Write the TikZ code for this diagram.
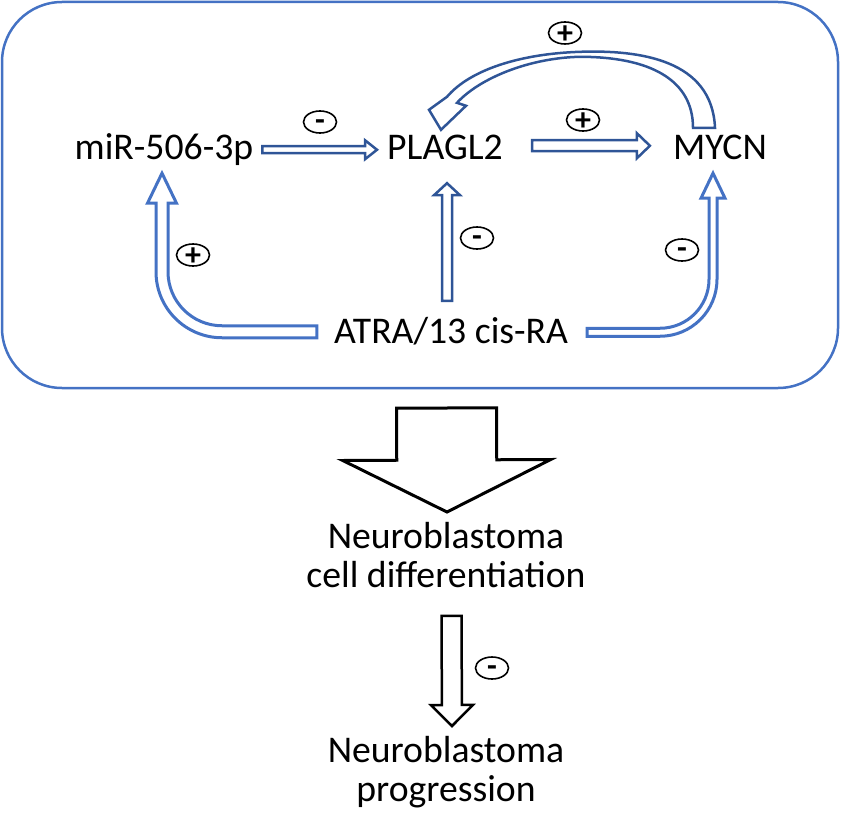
\documentclass[tikz,border=0pt]{standalone}
\usepackage{fontspec}
\setmainfont{Carlito}
\usetikzlibrary{calc,shapes.geometric}

\definecolor{arrblue}{HTML}{2F5597}
\definecolor{boxblue}{HTML}{4472C4}

\newcommand{\sgnplus}{\raisebox{-0.33em}[0pt][0pt]{\makebox[0pt]{+}}}
\newcommand{\sgnminus}{\raisebox{-0.27em}[0pt][0pt]{\makebox[0pt]{-}}}

\tikzset{
  lbl/.style={font=\fontsize{37.7}{39}\selectfont, inner sep=2pt, text height=24.5pt, text depth=0pt},
  res/.style={font=\fontsize{37.7}{39}\selectfont, align=center, inner sep=2pt},
  sgn/.style={ellipse, draw, line width=1.6, minimum width=33, minimum height=22, inner sep=0pt,
    font=\bfseries\fontsize{32}{32}\selectfont},
  % hollow block arrow: shaft half width, head half width, head length
  blk/.style n args={3}{to path={
    let \p1=(\tikztostart), \p2=(\tikztotarget),
        \n1={atan2(\y2-\y1,\x2-\x1)} in
    ($(\p1)+(\n1+90:#1)$) -- ($(\p2)+(\n1:-#3)+(\n1+90:#1)$)
    -- ($(\p2)+(\n1:-#3)+(\n1+90:#2)$) -- (\p2)
    -- ($(\p2)+(\n1:-#3)+(\n1-90:#2)$) -- ($(\p2)+(\n1:-#3)+(\n1-90:#1)$)
    -- ($(\p1)+(\n1-90:#1)$) -- cycle}},
  dark/.style={draw=arrblue, line width=2.5, line join=miter},
  lite/.style={draw=boxblue, line width=3, line join=miter},
  blkarr/.style={draw=black, line width=#1, line join=miter},
}

\begin{document}
\begin{tikzpicture}[x=1pt,y=1pt]
  \useasboundingbox (0,0) rectangle (842,-813);

  % frame
  \coordinate (fsw) at (2,-388);
  \coordinate (fne) at (838,-2);
  \draw[boxblue, line width=2.5, rounded corners=60] (fsw) rectangle (fne);

  % labels
  \node[lbl, anchor=base] (mir) at (164,-160) {miR-506-3p};
  \node[lbl, anchor=base] (plagl) at (445,-160) {PLAGL2};
  \node[lbl, anchor=base] (mycn) at (720,-160) {MYCN};
  \node[lbl, anchor=base] (atra) at (451,-343) {ATRA/13 cis-RA};
  \node[res, anchor=north] (diff) at (446,-520) {Neuroblastoma\\cell differentiation};
  \node[res, anchor=north] (prog) at (446,-734) {Neuroblastoma\\progression};

  % straight arrows
  \draw[dark] ($(mir.east)+(7,-2)$) to[blk={3.5}{9.5}{12}] ($(plagl.west)+(-8,-2)$);
  \draw[dark] ($(plagl.east)+(27,2)$) to[blk={5.5}{12.5}{13}] ($(mycn.west)+(-21,2)$);
  \draw[dark] ($(plagl.south |- atra.north)+(2,15.5)$) to[blk={5}{13}{12}] ($(plagl.south)+(2,-21)$);

  % MYCN back to PLAGL2
  \coordinate (ct) at ($(mycn.north)+(-16,5.5)$);
  \coordinate (cp) at ($(plagl.north)+(-4,3.5)$);
  \draw[dark] let \p1=(ct), \p2=(cp) in
    (\x1+11,\y1) .. controls (\x1+8,\y1+68) and (\x1-64,\y1+78) .. (\x1-124,\y1+76)
    .. controls (\x2+79,\y2+76) and (\x2+29,\y2+60) .. (\x2+6,\y2+33)
    -- (\x2-12,\y2+20) -- (\p2) -- (\x2+25,\y2+24) -- (\x2+16,\y2+27)
    .. controls (\x2+39,\y2+52) and (\x2+89,\y2+72) .. (\x1-124,\y1+71)
    .. controls (\x1-54,\y1+71) and (\x1-11,\y1+48) .. (\x1-11,\y1) -- cycle;

  % ATRA to miR-506-3p
  \coordinate (lt) at ($(atra.west)+(-15,-1)$);
  \coordinate (lh) at ($(mir.south)+(-2,-11)$);
  \draw[lite] let \p1=(lt), \p2=(lh) in
    (\x1,\y1+6) -- (\x2+60,\y1+6) arc[start angle=-90, end angle=-180, radius=54]
    -- (\x2+6,\y2-30) -- (\x2+14.5,\y2-30) -- (\p2) -- (\x2-14.5,\y2-30) -- (\x2-6,\y2-30)
    -- (\x2-6,\y1+60) arc[start angle=180, end angle=270, radius=66] -- (\x1,\y1-6) -- cycle;

  % ATRA to MYCN
  \coordinate (rt) at ($(atra.east)+(17,-1.5)$);
  \coordinate (rh) at ($(mycn.south)+(-7,-11)$);
  \draw[lite] let \p1=(rt), \p2=(rh) in
    (\x1,\y1+4) -- (\x2-53,\y1+4) arc[start angle=-90, end angle=0, radius=49]
    -- (\x2-4,\y2-25) -- (\x2-12,\y2-25) -- (\p2) -- (\x2+12,\y2-25) -- (\x2+4,\y2-25)
    -- (\x2+4,\y1+53) arc[start angle=0, end angle=-90, radius=57] -- (\x1,\y1-4) -- cycle;

  % down arrows
  \draw[blkarr=3] ($(diff.north |- fsw)+(0.5,-20)$) to[blk={50}{104}{52}] ($(diff.north)+(1,8)$);
  \draw[blkarr=2.5] ($(diff.south)+(5.5,-26)$) to[blk={10}{21}{21}] ($(prog.north)+(6,8)$);

  % signs
  \node[sgn] (smir) at (320,-122) {\sgnminus};
  \node[sgn] (splag) at (583,-120) {\sgnplus};
  \node[sgn] (sback) at (565,-33) {\sgnplus};
  \node[sgn] (sleft) at (193,-255) {\sgnplus};
  \node[sgn] (smid) at (477,-238) {\sgnminus};
  \node[sgn] (sright) at (682,-250) {\sgnminus};
  \node[sgn] (sdiff) at (492,-668) {\sgnminus};
\end{tikzpicture}
\end{document}
